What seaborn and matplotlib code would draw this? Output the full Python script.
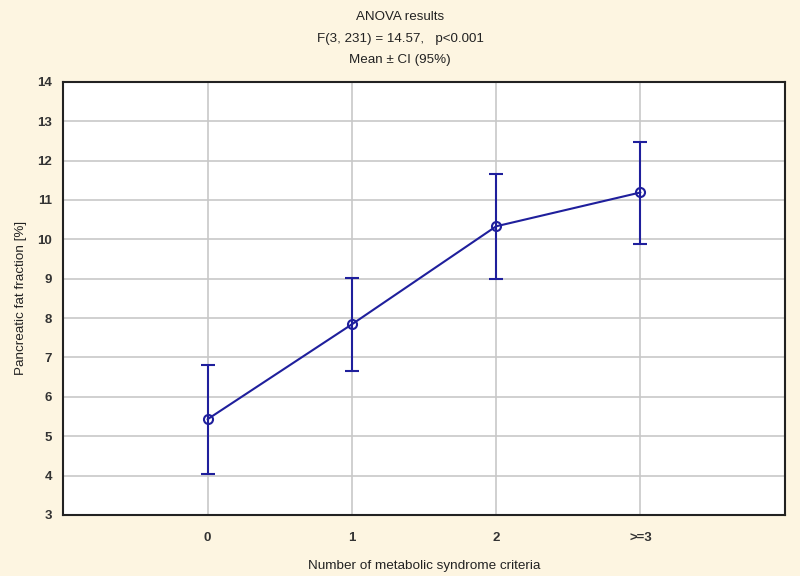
import numpy as np
import pandas as pd
import matplotlib
matplotlib.use("Agg")
import matplotlib.pyplot as plt
import seaborn as sns

categories = ["0", "1", "2", ">=3"]
means = [5.43, 7.84, 10.33, 11.19]
ci_low = [4.04, 6.65, 8.98, 9.87]
ci_high = [6.80, 9.02, 11.67, 12.48]

df = pd.DataFrame({"criteria": categories, "fat": means})

sns.set_style("whitegrid")
plt.rcParams["font.family"] = ["Liberation Sans", "DejaVu Sans"]

BG = "#fdf5e1"
LINE = "#1f1f9c"

fig = plt.figure(figsize=(8, 5.76), dpi=100, facecolor=BG)
ax = fig.add_axes([0.079, 0.106, 0.902, 0.752])
ax.set_facecolor("white")

pos = np.arange(len(categories))
ax.errorbar(pos, means,
            yerr=[np.array(means) - np.array(ci_low), np.array(ci_high) - np.array(means)],
            fmt="none", ecolor=LINE, elinewidth=1.5, capsize=5, capthick=1.5, zorder=3)
sns.lineplot(data=df, x="criteria", y="fat", ax=ax, color=LINE, linewidth=1.5,
             marker="o", markersize=6.5, markerfacecolor="none",
             markeredgecolor=LINE, markeredgewidth=1.5, sort=False, zorder=4)

ax.set_xlim(-1, 4)
ax.set_ylim(3, 14)
ax.set_yticks(range(3, 15))
ax.set_xticks(pos)
ax.set_xticklabels(categories)
ax.grid(True, color="#c8c8c8", linewidth=1.2)
for s in ax.spines.values():
    s.set_color("#222222")
    s.set_linewidth(1.5)
ax.tick_params(direction="in", length=4, width=1, colors="#222222", labelsize=9.5)
ax.tick_params(axis="x", pad=12.5)
ax.tick_params(axis="y", pad=8)
for lbl in ax.get_xticklabels() + ax.get_yticklabels():
    lbl.set_fontweight("bold")
    lbl.set_color("#333333")

ax.set_xlabel("Number of metabolic syndrome criteria", fontsize=9.7, color="#222222", labelpad=11)
ax.set_ylabel("Pancreatic fat fraction [%]", fontsize=9.7, color="#222222", labelpad=7.5)

fig.text(0.5, 0.971, "ANOVA results", ha="center", va="center", fontsize=9.6, color="#222222")
fig.text(0.5, 0.933, "F(3, 231) = 14.57,   p<0.001", ha="center", va="center", fontsize=9.6, color="#222222")
fig.text(0.5, 0.896, "Mean \u00b1 CI (95%)", ha="center", va="center", fontsize=9.6, color="#222222")

fig.savefig("out.png", dpi=100, facecolor=BG)
